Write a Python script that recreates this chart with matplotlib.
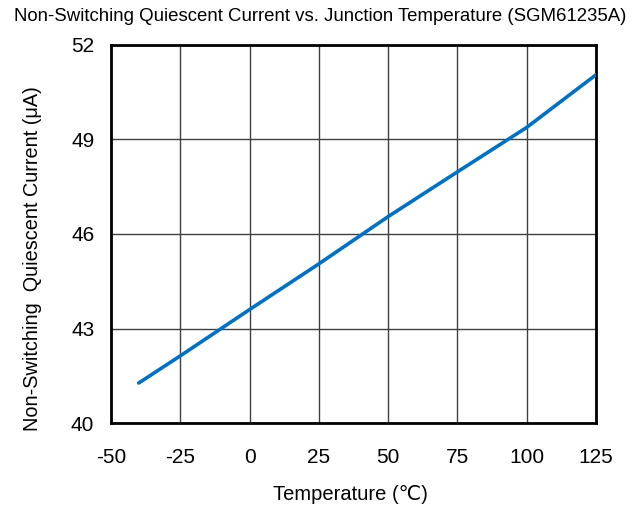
import matplotlib
matplotlib.use("Agg")
import matplotlib.pyplot as plt

temps = [-40, -25, 0, 25, 50, 75, 100, 125]
current = [41.27, 42.13, 43.6, 45.05, 46.55, 47.97, 49.38, 51.05]
xticks = [-50, -25, 0, 25, 50, 75, 100, 125]
yticks = [40, 43, 46, 49, 52]

plt.rcParams['font.family'] = ['Liberation Sans', 'DejaVu Sans']
plt.rcParams['axes.unicode_minus'] = False

fig = plt.figure(figsize=(6.4, 5.14), dpi=100)
ax = fig.add_axes([0.1734, 0.177, 0.931 - 0.1734, 0.9125 - 0.177])
ax.plot(temps, current, color='#0070C0', lw=2.6, solid_capstyle='round', zorder=3)
ax.set_xlim(-50, 125)
ax.set_ylim(40, 52)
ax.set_xticks(xticks)
ax.set_yticks(yticks)
ax.grid(True, color='#404040', lw=1.0)
for s in ax.spines.values():
    s.set_linewidth(2.0)
    s.set_color('black')
ax.tick_params(length=0, labelsize=15)
ax.tick_params(axis='x', pad=18)
ax.tick_params(axis='y', pad=12)
ax.set_xlabel('Temperature (℃)', fontsize=14.5, va='center')
ax.xaxis.set_label_coords(0.493, -0.19)
ax.set_ylabel('Non-Switching  Quiescent Current (μA)', fontsize=14.3, va='center')
ax.yaxis.set_label_coords(-0.161, 0.434)
fig.text(0.5, 0.968, 'Non-Switching Quiescent Current vs. Junction Temperature (SGM61235A)',
         ha='center', va='center', fontsize=13.4)
fig.savefig('out.png', dpi=100)
